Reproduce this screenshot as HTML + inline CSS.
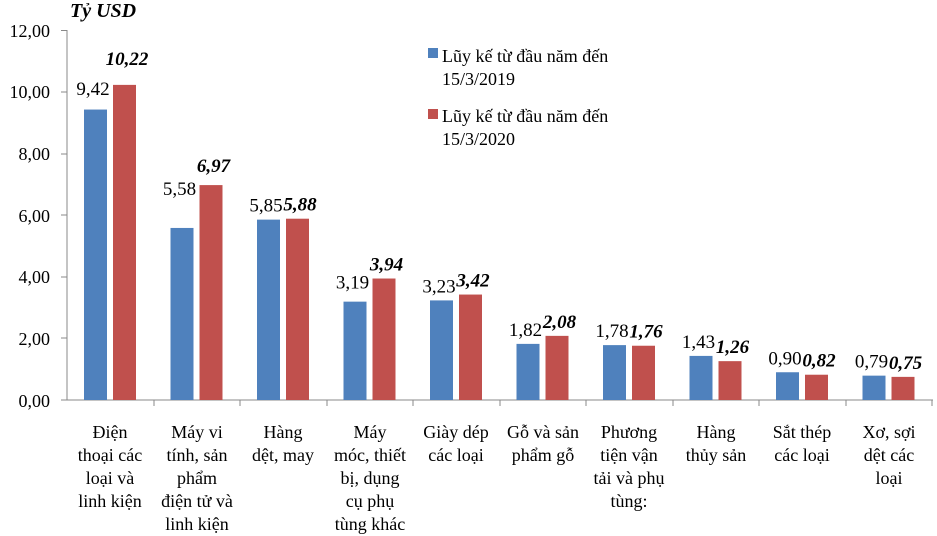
<!DOCTYPE html>
<html><head><meta charset="utf-8"><style>body{margin:0;background:#fff}svg{display:block}text{font-family:"Liberation Serif",serif;fill:#000}</style></head><body>
<svg width="937" height="536" viewBox="0 0 937 536">
<text x="70" y="17" font-size="20" font-weight="bold" font-style="italic">Tỷ USD</text>
<g font-size="18" text-anchor="end">
<text x="50" y="37">12,00</text><text x="50" y="98">10,00</text><text x="50" y="160">8,00</text><text x="50" y="222">6,00</text><text x="50" y="283">4,00</text><text x="50" y="345">2,00</text><text x="50" y="407">0,00</text>
</g>
<g stroke="#888" stroke-width="1">
<line x1="67" y1="30" x2="67" y2="400"/><line x1="67" y1="400" x2="933" y2="400"/>
<line x1="61" y1="30.5" x2="67" y2="30.5"/><line x1="61" y1="92" x2="67" y2="92"/><line x1="61" y1="154" x2="67" y2="154"/><line x1="61" y1="215" x2="67" y2="215"/><line x1="61" y1="277" x2="67" y2="277"/><line x1="61" y1="338" x2="67" y2="338"/><line x1="61" y1="400" x2="67" y2="400"/>
<line x1="154" y1="400" x2="154" y2="406"/><line x1="240" y1="400" x2="240" y2="406"/><line x1="327" y1="400" x2="327" y2="406"/><line x1="413" y1="400" x2="413" y2="406"/><line x1="500" y1="400" x2="500" y2="406"/><line x1="586" y1="400" x2="586" y2="406"/><line x1="673" y1="400" x2="673" y2="406"/><line x1="759" y1="400" x2="759" y2="406"/><line x1="846" y1="400" x2="846" y2="406"/><line x1="932" y1="400" x2="932" y2="406"/>
</g>
<g id="bars"></g>
<rect x="428" y="48" width="10" height="10" fill="#4f81bd"/>
<text x="442" y="62" font-size="18">Lũy kế từ đầu năm đến</text><text x="442" y="85" font-size="18">15/3/2019</text>
<rect x="428" y="109" width="10" height="10" fill="#c0504d"/>
<text x="442" y="122" font-size="18">Lũy kế từ đầu năm đến</text><text x="442" y="145" font-size="18">15/3/2020</text>
<g font-size="18" text-anchor="middle">
<text x="110" y="438">Điện</text><text x="110" y="461">thoại các</text><text x="110" y="484">loại và</text><text x="110" y="507">linh kiện</text>
<text x="197" y="438">Máy vi</text><text x="197" y="461">tính, sản</text><text x="197" y="484">phẩm</text><text x="197" y="507">điện tử và</text><text x="197" y="530">linh kiện</text>
<text x="283" y="438">Hàng</text><text x="283" y="461">dệt, may</text>
<text x="370" y="438">Máy</text><text x="370" y="461">móc, thiết</text><text x="370" y="484">bị, dụng</text><text x="370" y="507">cụ phụ</text><text x="370" y="530">tùng khác</text>
<text x="456" y="438">Giày dép</text><text x="456" y="461">các loại</text>
<text x="543" y="438">Gỗ và sản</text><text x="543" y="461">phẩm gỗ</text>
<text x="629" y="438">Phương</text><text x="629" y="461">tiện vận</text><text x="629" y="484">tải và phụ</text><text x="629" y="507">tùng:</text>
<text x="716" y="438">Hàng</text><text x="716" y="461">thủy sản</text>
<text x="802" y="438">Sắt thép</text><text x="802" y="461">các loại</text>
<text x="889" y="438">Xơ, sợi</text><text x="889" y="461">dệt các</text><text x="889" y="484">loại</text>
</g>
</svg>
<script>
var a=[9.42,5.58,5.85,3.19,3.23,1.82,1.78,1.43,0.90,0.79],b=[10.22,6.97,5.88,3.94,3.42,2.08,1.76,1.26,0.82,0.75];
var g=document.getElementById('bars'),s='',k=370/12;
function f(v){return v.toFixed(2).replace('.',',');}
for(var i=0;i<10;i++){var x0=67+i*86.5,h1=a[i]*k,h2=b[i]*k;
s+='<rect x="'+(x0+17)+'" y="'+(400-h1)+'" width="23" height="'+h1+'" fill="#4f81bd"/>';
s+='<rect x="'+(x0+46)+'" y="'+(400-h2)+'" width="23" height="'+h2+'" fill="#c0504d"/>';
s+='<text x="'+(x0+26)+'" y="'+(400-Math.max(h1,h2-18)-8)+'" font-size="19" text-anchor="middle">'+f(a[i])+'</text>';
s+='<text x="'+(x0+60)+'" y="'+(400-Math.max(h2,h1-18)-8+(i==0?-12:0)+(i==1?-5:0))+'" font-size="19" font-weight="bold" font-style="italic" text-anchor="middle">'+f(b[i])+'</text>';}
g.innerHTML=s;
</script>
</body></html>
